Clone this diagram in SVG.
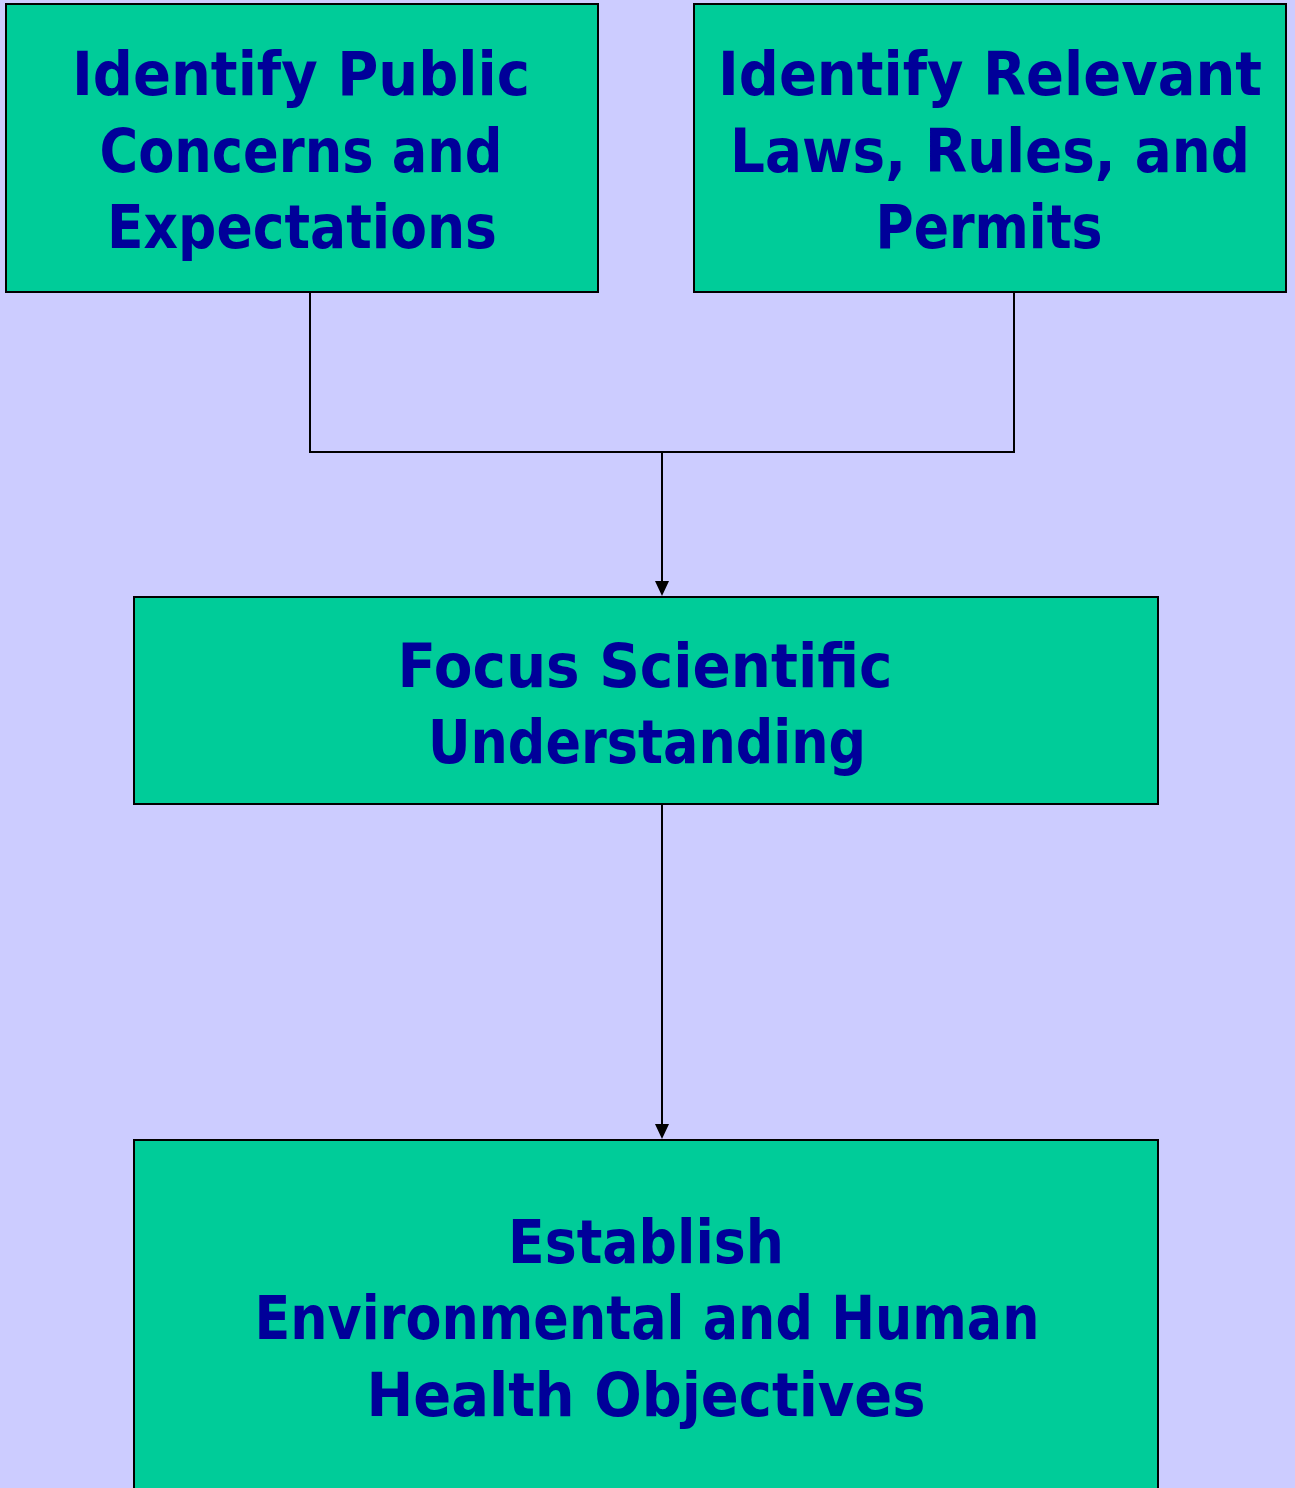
<svg xmlns="http://www.w3.org/2000/svg" width="1295" height="1488" viewBox="0 0 1295 1488">
<defs>
<style>
.box{fill:#00CC99;stroke:#000;stroke-width:2}
.t{font-family:"Comic Sans MS","DejaVu Sans",sans-serif;font-weight:bold;font-size:61px;fill:#000099;text-anchor:middle}
.c{stroke:#000;stroke-width:2;fill:none}
</style>
</defs>
<rect width="1295" height="1488" fill="#CCCCFF"/>
<g id="connectors">
<path class="c" d="M310,292 V452 H1014 V292"/>
<line class="c" x1="662" y1="452" x2="662" y2="581"/>
<path d="M655,581 L669,581 L662,596 Z" fill="#000"/>
<line class="c" x1="662" y1="804" x2="662" y2="1124"/>
<path d="M655,1124 L669,1124 L662,1139 Z" fill="#000"/>
</g>
<g id="node-public">
<rect class="box" x="6" y="4" width="592" height="288"/>
<text class="t" x="301" y="95" textLength="458" lengthAdjust="spacingAndGlyphs">Identify Public</text>
<text class="t" x="301" y="172" textLength="403" lengthAdjust="spacingAndGlyphs">Concerns and</text>
<text class="t" x="302" y="248" textLength="390" lengthAdjust="spacingAndGlyphs">Expectations</text>
</g>
<g id="node-laws">
<rect class="box" x="694" y="4" width="592" height="288"/>
<text class="t" x="990" y="95" textLength="544" lengthAdjust="spacingAndGlyphs">Identify Relevant</text>
<text class="t" x="990" y="172" textLength="520" lengthAdjust="spacingAndGlyphs">Laws, Rules, and</text>
<text class="t" x="989" y="248" textLength="227" lengthAdjust="spacingAndGlyphs">Permits</text>
</g>
<g id="node-focus">
<rect class="box" x="134" y="597" width="1024" height="207"/>
<text class="t" x="645" y="687" textLength="495" lengthAdjust="spacingAndGlyphs">Focus Scientific</text>
<text class="t" x="647" y="763" textLength="438" lengthAdjust="spacingAndGlyphs">Understanding</text>
</g>
<g id="node-establish">
<rect class="box" x="134" y="1140" width="1024" height="360"/>
<text class="t" x="646" y="1263" textLength="276" lengthAdjust="spacingAndGlyphs">Establish</text>
<text class="t" x="647" y="1339" textLength="785" lengthAdjust="spacingAndGlyphs">Environmental and Human</text>
<text class="t" x="646" y="1416" textLength="559" lengthAdjust="spacingAndGlyphs">Health Objectives</text>
</g>
</svg>
